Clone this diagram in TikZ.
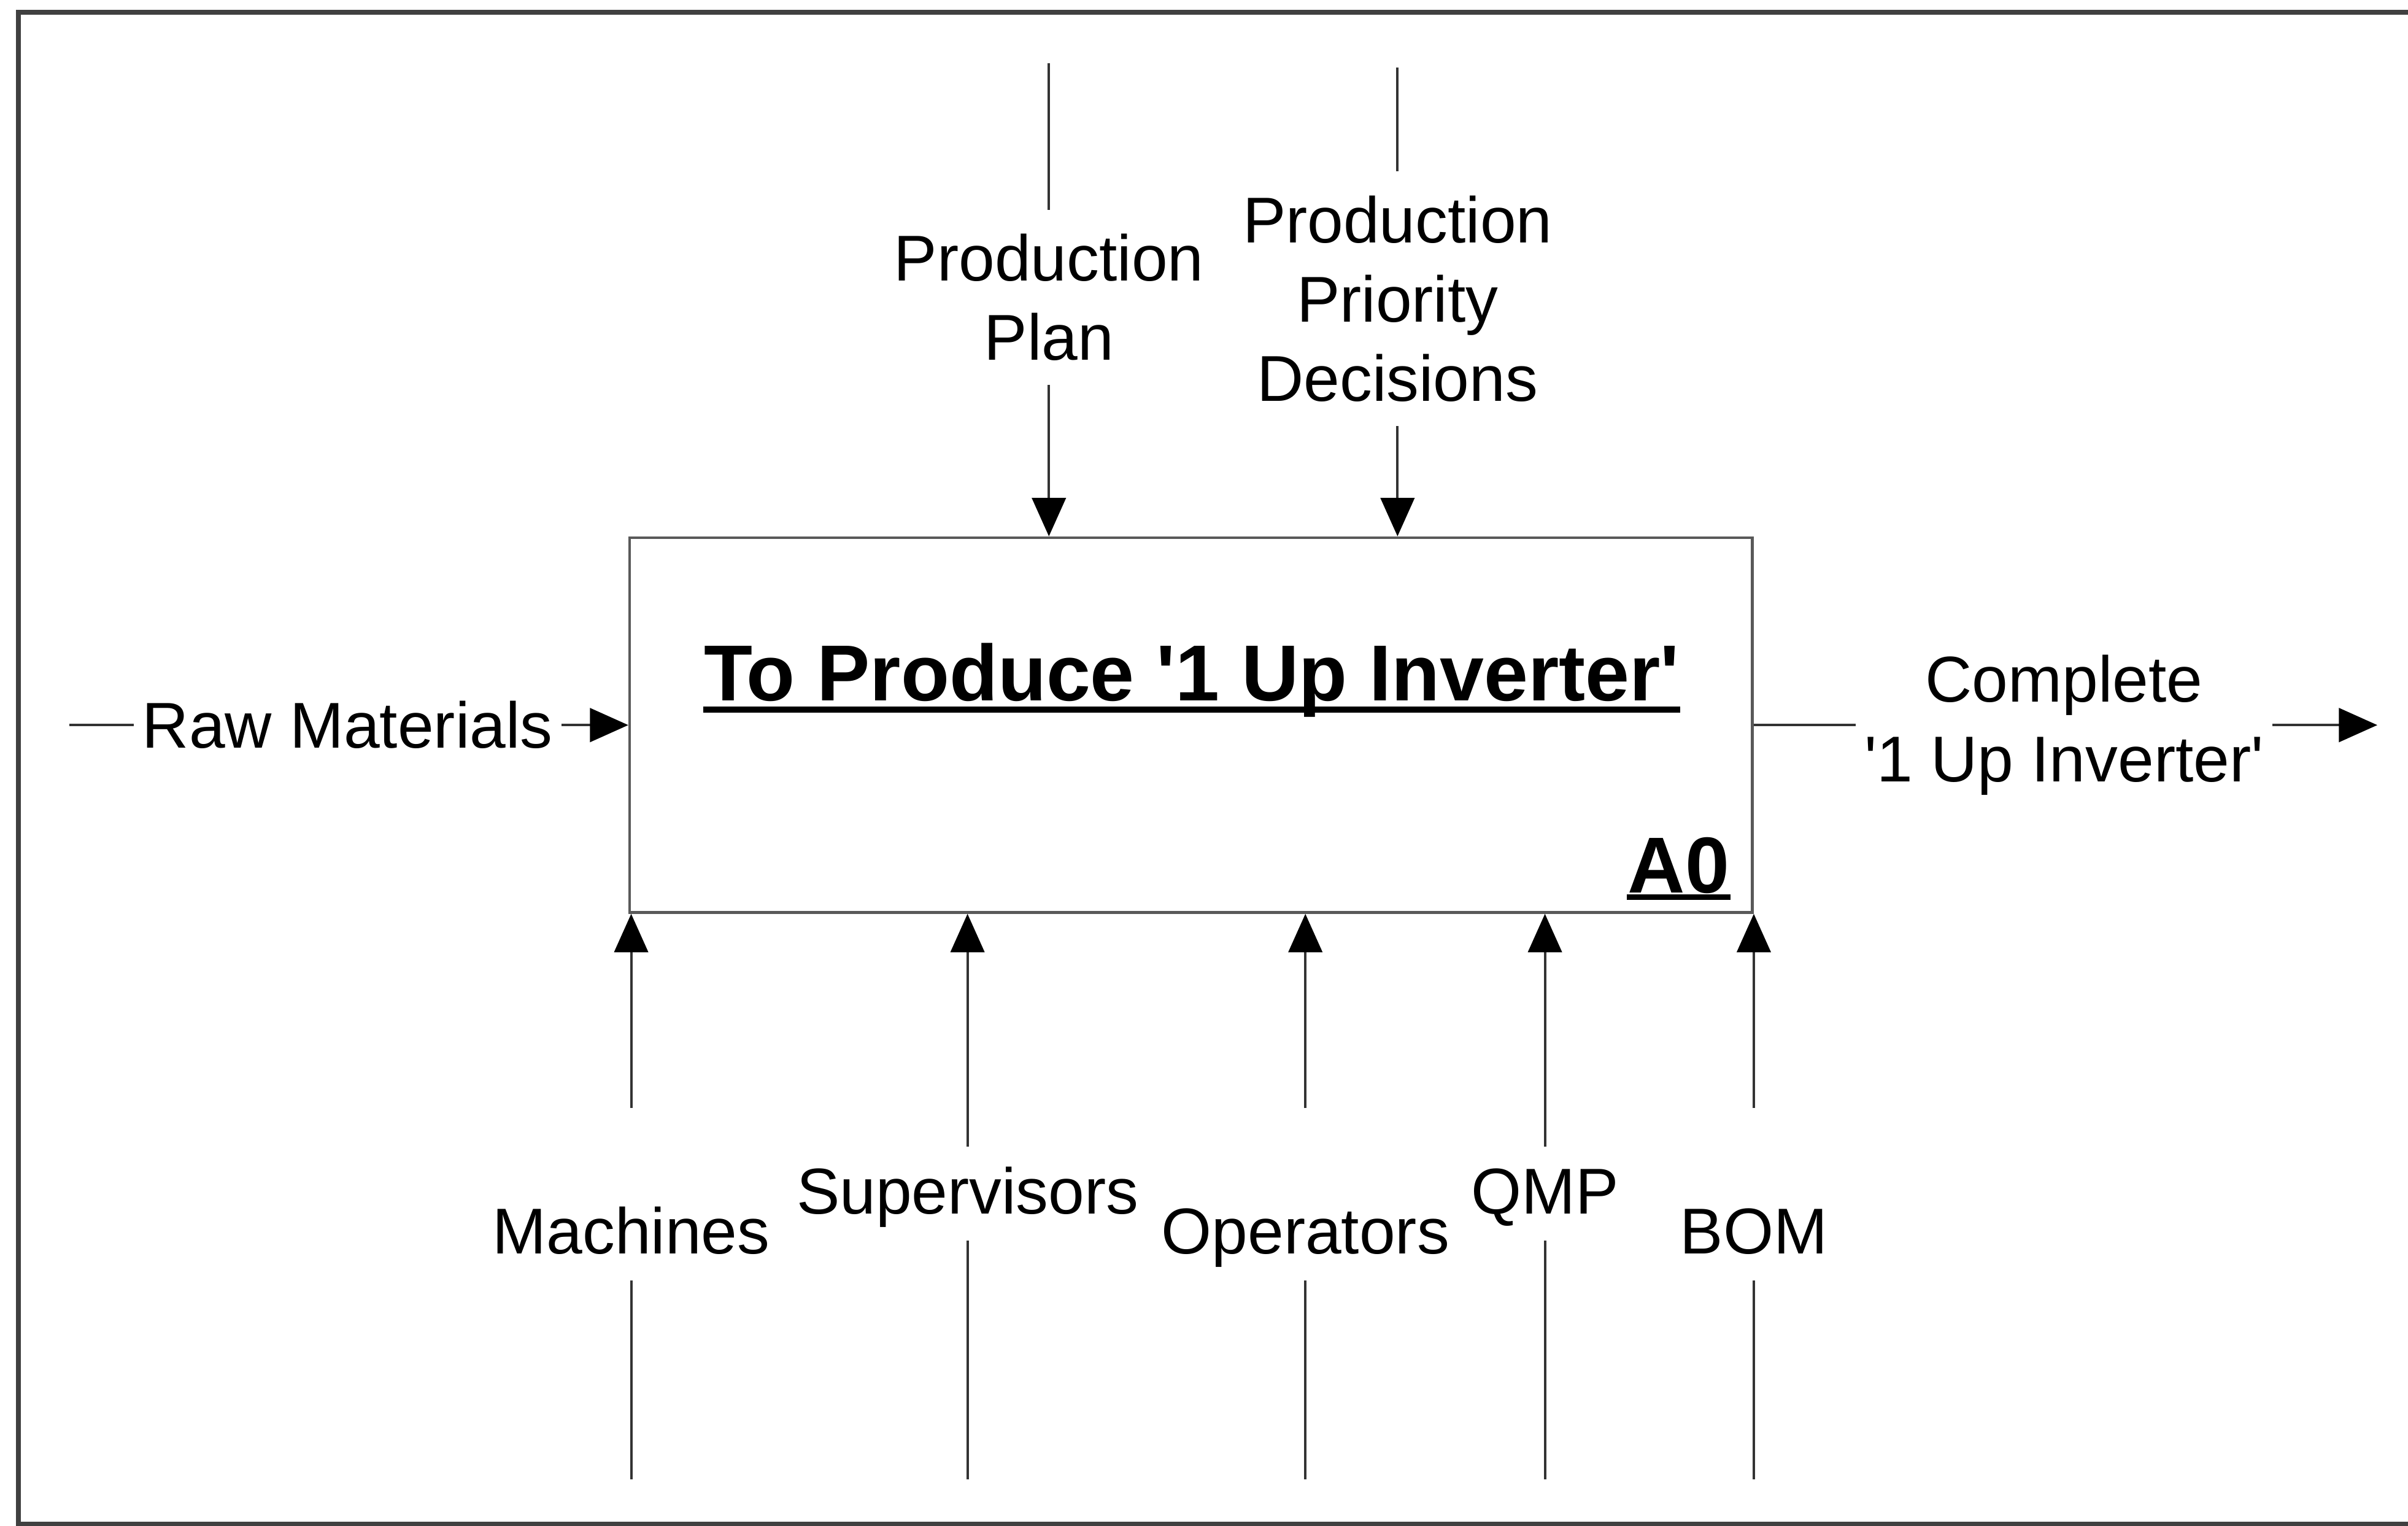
\documentclass[tikz,border=0pt]{standalone}
\usepackage{fontspec}
\setmainfont{Liberation Sans}
\usetikzlibrary{arrows.meta,positioning}

\tikzset{
  wire/.style={draw=black!80, line width=0.45pt},
  flow/.style={wire, -{Triangle[length=2.5mm,width=2.2mm,color=black]}},
  lab/.style={align=center, font=\fontsize{12}{14.7}\selectfont, inner xsep=0.5mm, inner ysep=1.5mm},
  mech/.style={font=\fontsize{12}{14.7}\selectfont, inner sep=0pt, anchor=base, text depth=0.17cm, text height=#1},
  head/.style={font=\bfseries\fontsize{14.7}{17}\selectfont, inner sep=0pt, anchor=base},
  uline/.style={line width=1.1pt},
  frame/.style={draw=black!75, line width=0.9pt}
}

\begin{document}
\begin{tikzpicture}
  \useasboundingbox (0,0) rectangle (15.68,-9.93);
  \draw[frame] (15.68,-0.08) -- (0.12,-0.08) -- (0.12,-9.92) -- (15.68,-9.92);

  % activity box
  \node[draw=black!65, line width=0.5pt, minimum width=7.31cm, minimum height=2.44cm, inner sep=0pt] (act) at (7.755,-4.72) {};
  \node[head] (title) at (7.76,-4.56) {To Produce \textquotesingle 1 Up Inverter\textquotesingle};
  \draw[uline] ([yshift=-0.06cm]title.base west) -- ([yshift=-0.06cm]title.base east);
  \node[head] (num) at (10.93,-5.81) {A0};
  \draw[uline] ([yshift=-0.03cm]num.base west) -- ([yshift=-0.03cm]num.base east);

  % input
  \coordinate (rmIn) at (0.45,-4.72);
  \node[lab, anchor=west] (rm) at (0.87,-4.72) {Raw Materials};
  \draw[wire] (rmIn) -- (rm);
  \draw[flow] (rm) -- (act);

  % output
  \node[lab] (out) at (13.44,-4.72) {Complete\\\textquotesingle 1 Up Inverter\textquotesingle};
  \coordinate (outEnd) at (15.48,-4.72);
  \draw[wire] (act) -- (out);
  \draw[flow] (out) -- (outEnd);

  % controls
  \coordinate (ppTop) at (6.83,-0.41);
  \node[lab] (pp) at (6.83,-1.935) {Production\\Plan};
  \draw[wire] (ppTop) -- (pp);
  \draw[flow] (pp) -- (pp |- act.north);

  \coordinate (ppdTop) at (9.10,-0.44);
  \node[lab] (ppd) at (9.10,-1.945) {Production\\Priority\\Decisions};
  \draw[wire] (ppdTop) -- (ppd);
  \draw[flow] (ppd) -- (ppd |- act.north);

  % mechanisms
  \coordinate (floor) at (0,-9.63);
  \node[mech=0.94cm] (mach) at (4.11,-8.16) {Machines};
  \node[mech=0.43cm] (sup) at (6.30,-7.90) {Supervisors};
  \node[mech=0.94cm] (opr) at (8.50,-8.16) {Operators};
  \node[mech=0.43cm] (qmp) at (10.06,-7.90) {QMP};
  \node[mech=0.94cm] (bom) at (11.42,-8.16) {BOM};
  \foreach \m in {mach,sup,opr,qmp,bom} {
    \draw[wire] (\m |- floor) -- (\m);
    \draw[flow] (\m) -- (\m |- act.south);
  }
\end{tikzpicture}
\end{document}
